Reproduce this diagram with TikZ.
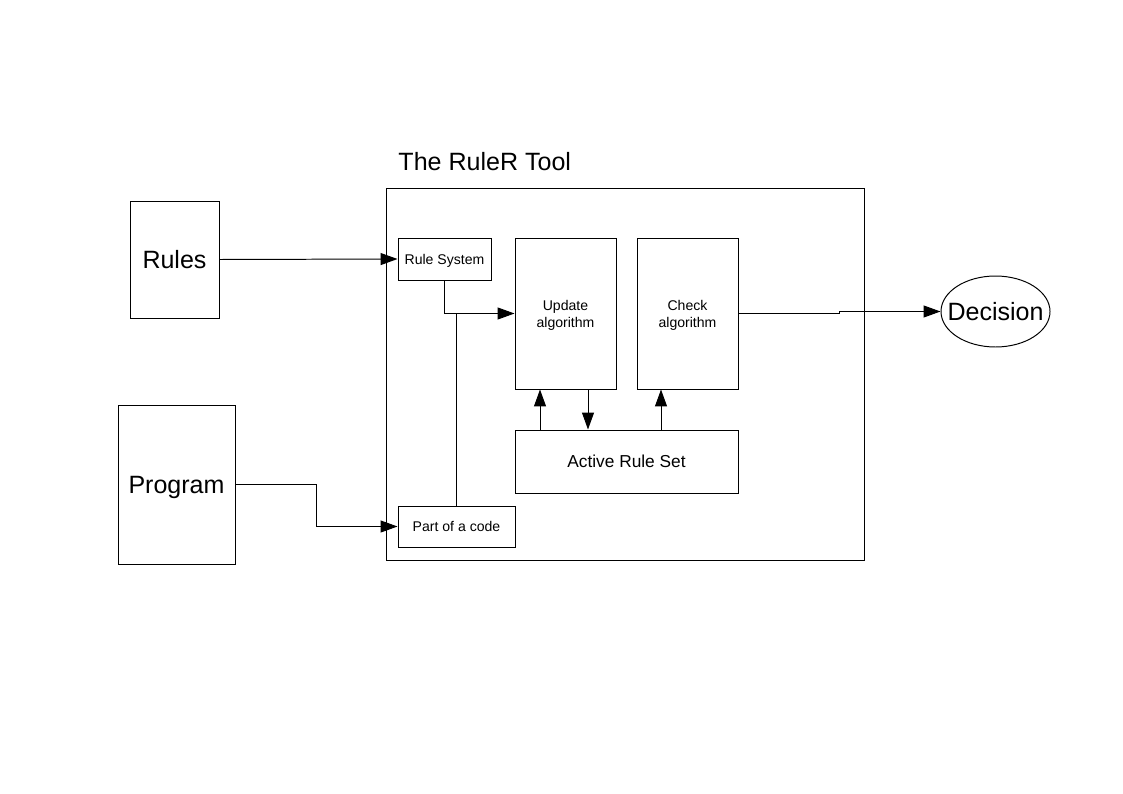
\documentclass[tikz,border=0pt]{standalone}
\usepackage{fontspec}
\setmainfont{Liberation Sans}
\usetikzlibrary{arrows.meta,positioning,shapes.geometric,calc}
\tikzset{every picture/.style={line width=0.7pt}}
\tikzset{
  block/.style={draw, rectangle, align=center, inner sep=0pt, text depth=0pt},
  bigtext/.style={font=\fontsize{17.8}{20}\selectfont},
  smalltext/.style={font=\fontsize{10}{12}\selectfont},
  arr/.style={-{Triangle[length=12pt,width=8.5pt]}}
}

\begin{document}
\begin{tikzpicture}[x=0.025cm, y=-0.025cm]
    % page frame
    \useasboundingbox (0,0) rectangle (1123,794);

    % the tool
    \node[block, minimum width=478*0.025cm, minimum height=372*0.025cm] (tool) at (625,374) {};
    \node[bigtext, anchor=west, inner sep=0pt] (title) at (398,162) {The RuleR Tool};

    % inputs
    \node[block, bigtext, minimum width=89*0.025cm, minimum height=117*0.025cm] (rules) at (174.5,259.5) {Rules};
    \node[block, bigtext, minimum width=117*0.025cm, minimum height=159*0.025cm] (program) at (176.5,484.5) {Program};

    % inner blocks
    \node[block, smalltext, minimum width=93*0.025cm, minimum height=42*0.025cm] (rulesys) at (444.5,259) {Rule System};
    \node[block, smalltext, minimum width=101*0.025cm, minimum height=151*0.025cm] (update) at (565.5,313.5) {Update\\algorithm};
    \node[block, smalltext, minimum width=101*0.025cm, minimum height=151*0.025cm] (check) at (687.5,313.5) {Check\\algorithm};
    \node[block, font=\fontsize{12.3}{14}\selectfont, minimum width=223*0.025cm, minimum height=63*0.025cm] (active) at (626.5,461.5) {Active Rule Set};
    \node[block, smalltext, minimum width=117*0.025cm, minimum height=41*0.025cm] (part) at (456.5,526.5) {Part of a code};

    % output
    \node[draw, ellipse, inner sep=0pt, minimum width=109*0.025cm, minimum height=71*0.025cm] (decision) at (995.5,311.5) {};
    \node[bigtext, inner sep=0pt, text depth=0pt] (decisiontext) at (decision.center) {Decision};

    % links
    \draw[arr] (rules.east) -- (rulesys.west);
    \draw[arr] (rulesys.south) |- (update.west);
    \draw (part.north) -- (part.north |- update.west);
    \draw[arr] (program.east) -- ++(81,0) |- (part.west);
    \draw[arr] (check.east) -- ++(101,0) |- (decision.west);

    % rule set links
    \coordinate (up1) at (540,430);
    \coordinate (dn1) at (588,389);
    \coordinate (up2) at (661,430);
    \draw[arr] (up1) -- (up1 |- update.south);
    \draw[arr] (dn1) -- (dn1 |- active.north);
    \draw[arr] (up2) -- (up2 |- check.south);
\end{tikzpicture}
\end{document}
